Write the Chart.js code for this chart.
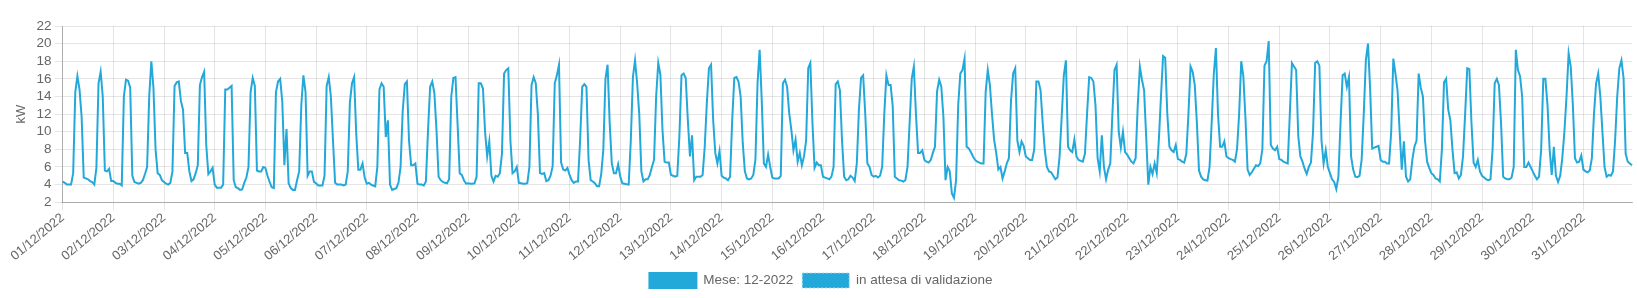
<!DOCTYPE html>
<html>
<head>
<meta charset="utf-8">
<script src="https://cdn.jsdelivr.net/npm/chart.js@4.4.0/dist/chart.umd.min.js"></script>
<style>
html, body { margin: 0; padding: 0; background: #fff; }
#wrap { width: 1637px; height: 298px; }
</style>
</head>
<body>
<div id="wrap"><canvas id="myChart"></canvas></div>
<script>
var days = ['01/12/2022','02/12/2022','03/12/2022','04/12/2022','05/12/2022','06/12/2022','07/12/2022',
  '08/12/2022','09/12/2022','10/12/2022','11/12/2022','12/12/2022','13/12/2022','14/12/2022',
  '15/12/2022','16/12/2022','17/12/2022','18/12/2022','19/12/2022','20/12/2022','21/12/2022',
  '22/12/2022','23/12/2022','24/12/2022','25/12/2022','26/12/2022','27/12/2022','28/12/2022',
  '29/12/2022','30/12/2022','31/12/2022'];
var hours = ['00','01','02','03','04','05','06','07','08','09','10','11',
  '12','13','14','15','16','17','18','19','20','21','22','23'];

// kW, one value per hour
var d01 = [4.35,4.2,4.0,4.0,4.0,5.3,14.5,16.3,14.8,11.7,4.8,4.7,4.6,4.4,4.3,4.0,5.9,15.5,16.8,14.0,5.6,5.5,5.8,4.4];
var d02 = [4.4,4.2,4.1,4.1,3.9,14.0,15.9,15.8,15.0,5.0,4.3,4.2,4.1,4.2,4.5,5.2,6.0,14.0,18.0,15.0,8.0,5.3,5.1,4.5];
var d03 = [4.3,4.1,4.0,4.2,5.5,15.2,15.6,15.7,13.5,12.5,7.6,7.6,5.5,4.4,4.6,5.3,6.2,15.3,16.2,16.8,8.5,5.2,5.5,5.9];
var d04 = [4.0,3.65,3.65,3.65,4.0,14.8,14.8,15.0,15.2,4.5,3.7,3.6,3.4,3.45,4.2,4.8,6.0,14.5,16.1,15.2,5.6,5.5,5.5,6.0];
var d05 = [5.9,5.0,4.3,3.7,3.6,14.5,15.7,16.0,13.4,6.2,10.3,4.15,3.6,3.4,3.4,4.5,5.5,13.0,16.4,14.5,5.0,5.5,5.5,4.3];
var d06 = [4.15,3.9,3.9,3.9,5.0,15.2,16.2,14.0,9.0,4.2,4.0,4.0,4.0,3.9,4.0,5.5,13.3,15.5,16.2,9.8,5.7,5.7,6.4,4.8];
var d07 = [4.1,4.2,4.0,3.9,3.8,6.0,14.8,15.5,15.1,9.4,11.3,4.0,3.4,3.5,3.6,4.2,6.0,12.3,15.4,15.7,9.0,6.2,6.2,6.4];
var d08 = [4.1,4.0,4.0,3.9,4.35,10.2,15.1,15.7,14.4,10.2,4.9,4.5,4.3,4.2,4.15,4.6,14.0,16.1,16.2,10.8,5.3,5.1,4.5,4.1];
var d09 = [4.15,4.1,4.1,4.15,4.9,15.5,15.5,14.9,10.0,7.2,8.9,5.0,4.35,5.0,4.9,5.3,7.5,16.6,17.0,17.2,9.0,5.3,5.5,6.0];
var d10 = [4.2,4.15,4.1,4.1,4.15,6.0,15.3,16.2,15.5,12.0,5.3,5.2,5.3,4.4,4.5,5.0,6.1,15.5,16.4,17.6,6.5,5.7,5.6,5.9];
var d11 = [5.1,4.5,4.2,4.35,4.35,9.0,15.1,15.4,15.1,6.8,4.5,4.35,4.15,3.8,3.8,5.2,8.0,16.0,17.6,11.0,6.4,5.3,5.3,6.3];
var d12 = [4.9,4.15,4.1,4.05,4.0,9.0,16.2,18.1,15.5,12.0,5.5,4.35,4.6,4.6,5.1,6.0,6.8,14.0,17.8,16.5,10.2,6.6,6.5,6.5];
var d13 = [5.1,5.0,4.9,5.0,9.5,16.4,16.6,16.1,11.3,7.2,9.6,4.5,4.9,4.9,4.9,5.1,8.3,13.3,17.2,17.6,11.3,7.6,6.4,7.8];
var d14 = [5.0,4.8,4.7,4.5,4.9,11.3,16.1,16.2,15.7,14.0,8.7,5.5,4.7,4.6,4.7,5.1,6.8,15.5,19.3,13.5,6.4,6.0,7.4,6.0];
var d15 = [4.8,4.7,4.7,4.7,5.0,15.5,15.9,15.1,12.1,10.2,7.9,9.1,6.6,7.6,6.2,7.2,9.0,17.2,17.8,11.0,5.9,6.5,6.2,6.2];
var d16 = [4.9,4.8,4.7,4.6,4.9,6.0,15.4,15.7,14.7,9.0,4.9,4.5,4.6,5.0,4.8,4.4,6.4,12.5,16.1,16.4,12.0,6.4,6.0,5.1];
var d17 = [4.9,5.0,4.8,5.0,6.0,12.0,16.4,15.3,15.3,12.9,4.9,4.7,4.5,4.45,4.35,4.5,6.0,11.0,16.0,17.4,12.0,7.6,7.6,7.9];
var d18 = [6.8,6.6,6.5,6.8,7.6,8.3,14.6,15.9,15.1,11.7,4.5,6.0,5.5,3.0,2.5,4.5,13.0,16.6,17.0,18.3,8.3,8.1,7.7,7.2];
var d19 = [6.8,6.6,6.5,6.4,6.4,14.5,17.0,15.3,12.0,9.1,7.6,5.7,6.0,4.7,5.5,6.4,7.0,13.5,16.6,17.2,9.0,7.7,8.9,8.4];
var d20 = [7.2,7.0,6.8,6.8,8.0,15.7,15.7,14.7,11.0,7.9,6.0,5.5,5.4,5.0,4.6,4.8,7.2,11.7,16.4,18.1,8.3,7.9,7.7,9.1];
var d21 = [7.2,6.8,6.7,6.6,7.5,12.0,16.2,16.1,15.7,13.0,7.0,5.5,9.6,6.0,4.6,5.7,6.4,12.0,17.0,17.6,10.0,8.2,10.0,7.7];
var d22 = [7.4,7.0,6.6,6.4,7.0,13.0,17.4,15.9,14.7,9.4,4.0,6.0,5.2,6.4,5.3,9.1,14.0,18.6,18.4,12.0,8.3,7.9,7.7,8.5];
var d23 = [6.9,6.8,6.6,6.5,7.5,12.0,17.4,16.8,15.3,11.0,5.6,4.9,4.6,4.5,4.45,6.0,11.0,16.5,19.5,12.0,8.3,8.3,8.9,7.2];
var d24 = [7.0,6.9,6.8,6.6,8.0,12.0,18.0,16.3,11.5,5.7,5.1,5.4,5.8,6.2,6.1,6.4,8.0,17.5,18.0,20.3,8.5,8.1,7.9,8.3];
var d25 = [6.9,6.8,6.6,6.5,6.4,12.0,17.8,17.4,17.0,9.5,7.2,6.6,5.8,5.2,6.0,6.5,10.0,17.8,18.0,17.5,9.0,6.4,7.9,6.0];
var d26 = [5.3,4.6,4.3,3.5,4.9,11.0,16.4,16.6,15.1,16.2,7.2,5.7,4.9,4.85,5.0,6.8,12.0,18.1,20.0,15.0,8.1,8.2,8.3,8.4];
var d27 = [6.8,6.6,6.6,6.4,6.4,10.0,18.3,16.6,14.7,10.0,5.7,8.9,4.9,4.35,4.6,6.8,8.3,9.0,16.6,15.0,14.0,9.0,6.6,5.9];
var d28 = [5.3,5.1,4.7,4.6,4.35,8.0,15.6,16.0,12.5,11.3,8.0,5.3,5.4,4.7,5.1,7.2,12.0,17.2,17.1,11.0,6.5,6.0,6.8,5.5];
var d29 = [5.0,4.8,4.6,4.5,4.6,8.0,15.5,16.0,15.3,11.0,4.9,4.7,4.6,4.6,4.8,6.0,19.3,17.0,16.3,14.0,6.0,6.0,6.5,6.0];
var d30 = [5.5,5.0,4.6,4.9,8.0,16.0,16.0,13.0,8.0,5.1,8.3,5.0,4.3,5.0,7.0,10.0,14.0,18.9,17.4,13.0,7.0,6.5,6.6,7.3];
var d31 = [5.7,5.5,5.4,5.6,7.0,12.0,15.5,16.6,14.0,10.0,6.0,4.9,5.1,5.0,5.5,9.0,14.0,17.2,18.1,16.1,7.5,6.6,6.4,6.2];

var monthData = [].concat(d01, d02, d03, d04, d05, d06, d07, d08, d09, d10, d11, d12, d13, d14, d15, d16,
  d17, d18, d19, d20, d21, d22, d23, d24, d25, d26, d27, d28, d29, d30, d31);

var labels = [];
for (var i = 0; i < days.length; i++) {
  for (var j = 0; j < hours.length; j++) {
    labels.push(days[i] + ' ' + hours[j] + ':00');
  }
}

var blue = '#23a8da';

Chart.defaults.font.family = '"Liberation Sans", Arial, sans-serif';
Chart.defaults.font.size = 13;
Chart.defaults.color = '#666';

var ctx = document.getElementById('myChart').getContext('2d');
window.myLine = new Chart(ctx, {
  type: 'line',
  data: {
    labels: labels,
    datasets: [{
      label: 'Mese: 12-2022',
      data: monthData,
      borderColor: blue,
      backgroundColor: blue,
      borderWidth: 2,
      pointRadius: 0,
      tension: 0,
      fill: false
    }, {
      label: 'in attesa di validazione',
      data: [],
      borderColor: '#a6dbf0',
      backgroundColor: blue,
      borderWidth: 1,
      borderDash: [2, 2],
      pointRadius: 0,
      fill: false
    }]
  },
  options: {
    responsive: true,
    maintainAspectRatio: false,
    animation: false,
    layout: {
      padding: { top: 26, right: 5, left: 10, bottom: 0 }
    },
    plugins: {
      legend: {
        position: 'bottom',
        labels: { boxWidth: 47, boxHeight: 15, padding: 9, font: { size: 13.5 } }
      },
      tooltip: { enabled: false }
    },
    scales: {
      x: {
        grid: { color: 'rgba(0,0,0,0.1)' },
        border: { color: 'rgba(0,0,0,0.25)' },
        ticks: {
          autoSkip: false,
          minRotation: 40,
          maxRotation: 40,
          padding: 0,
          callback: function (value, index) {
            return index % 24 === 0 ? days[index / 24] : null;
          }
        }
      },
      y: {
        min: 2,
        max: 22,
        grid: { color: 'rgba(0,0,0,0.1)' },
        border: { color: 'rgba(0,0,0,0.25)' },
        ticks: { stepSize: 2, autoSkip: false, font: { size: 13.5 } },
        title: { display: true, text: 'kW' }
      }
    }
  }
});
</script>
</body>
</html>
